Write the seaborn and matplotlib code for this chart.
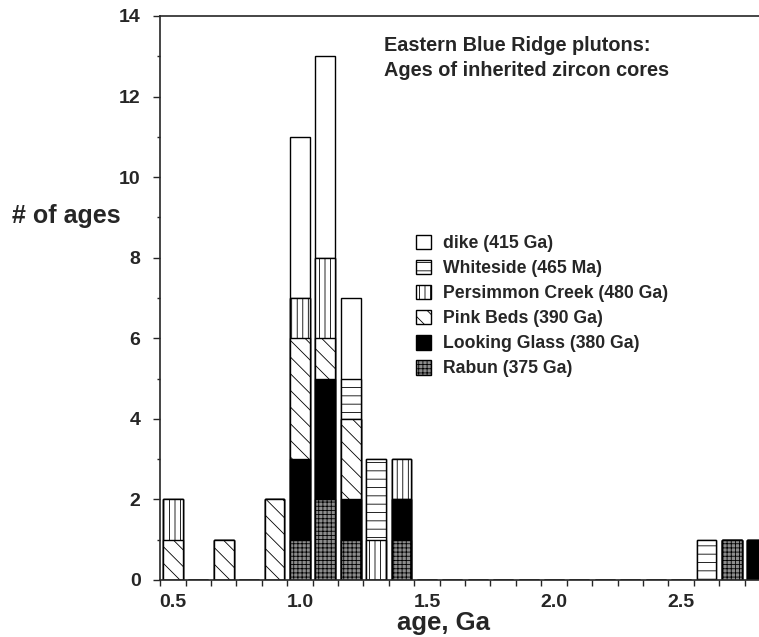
import numpy as np
import pandas as pd
import matplotlib
matplotlib.use("Agg")
import matplotlib.pyplot as plt
from matplotlib.patches import Patch
from matplotlib.ticker import MultipleLocator, FixedLocator
import seaborn as sns

# ---- data ----
ages = [0.5, 0.7, 0.9, 1.0, 1.1, 1.2, 1.3, 1.4, 2.6, 2.7, 2.8]
rabun = [0, 0, 0, 1, 2, 1, 0, 1, 0, 1, 0]
looking_glass = [0, 0, 0, 2, 3, 1, 0, 1, 0, 0, 1]
pink_beds = [1, 1, 2, 3, 1, 2, 0, 0, 0, 0, 0]
persimmon = [1, 0, 0, 1, 2, 0, 1, 1, 0, 0, 0]
whiteside = [0, 0, 0, 0, 0, 1, 2, 0, 1, 0, 0]
dike = [0, 0, 0, 4, 5, 2, 0, 0, 0, 0, 0]

series_names = ["Rabun (375 Ga)", "Looking Glass (380 Ga)", "Pink Beds (390 Ga)",
                "Persimmon Creek (480 Ga)", "Whiteside (465 Ma)", "dike (415 Ga)"]
series_vals = [rabun, looking_glass, pink_beds, persimmon, whiteside, dike]
styles = {
    "Rabun (375 Ga)": dict(facecolor="#8c8c8c", hatch="++++"),
    "Looking Glass (380 Ga)": dict(facecolor="black", hatch=None),
    "Pink Beds (390 Ga)": dict(facecolor="white", hatch="\\\\"),
    "Persimmon Creek (480 Ga)": dict(facecolor="white", hatch="|||"),
    "Whiteside (465 Ma)": dict(facecolor="white", hatch="--"),
    "dike (415 Ga)": dict(facecolor="white", hatch=None),
}

sns.set_style("ticks")
plt.rcParams["font.family"] = ["Liberation Sans", "DejaVu Sans"]
plt.rcParams["font.weight"] = "bold"
plt.rcParams["hatch.linewidth"] = 0.6

fig = plt.figure(figsize=(7.59, 6.37), dpi=100)
ax = fig.add_axes([160 / 759, 1 - 580 / 637, 1 - 160 / 759, (580 - 16) / 637])

edges = [round(0.45 + 0.1 * k, 2) for k in range(25)]
cum = np.cumsum(np.array(series_vals), axis=0)

# draw cumulative layers from the top down so lower layers cover upper ones
for i in range(len(series_names) - 1, -1, -1):
    name = series_names[i]
    st = styles[name]
    df = pd.DataFrame({"age": ages, "count": cum[i]})
    sns.histplot(data=df, x="age", weights="count", bins=edges, shrink=0.78,
                 color=st["facecolor"], hatch=st["hatch"], edgecolor="black",
                 linewidth=1.0, alpha=1, ax=ax)

ax.set_xlim(0.449, 2.807)
ax.set_ylim(0, 14)
ax.xaxis.set_major_locator(FixedLocator([0.5, 1.0, 1.5, 2.0, 2.5]))
ax.xaxis.set_minor_locator(FixedLocator(edges))
ax.set_xticklabels(["0.5", "1.0", "1.5", "2.0", "2.5"])
ax.yaxis.set_major_locator(MultipleLocator(2))
ax.yaxis.set_minor_locator(MultipleLocator(1))
ax.tick_params(axis="x", which="major", length=0, pad=10, labelsize=14)
ax.tick_params(axis="x", which="minor", length=4, width=1, direction="out")
ax.tick_params(axis="y", which="major", length=5, width=1, pad=9, labelsize=14)
ax.tick_params(axis="y", which="minor", length=2.5, width=1)
for lab in ax.get_xticklabels() + ax.get_yticklabels():
    lab.set_fontweight("bold")

for s in ["left", "bottom", "top"]:
    ax.spines[s].set_visible(True)
    ax.spines[s].set_linewidth(1.2)
ax.spines["right"].set_visible(False)

ax.set_xlabel("")
ax.set_ylabel("")
fig.text(444 / 759, 1 - 630 / 637, "age, Ga", fontsize=18.5, fontweight="bold",
         ha="center", va="baseline")
fig.text(12 / 759, 1 - 216 / 637, "# of ages", fontsize=18, fontweight="bold",
         ha="left", va="center")

fig.text(384 / 759, 1 - 36 / 637, "Eastern Blue Ridge plutons:\nAges of inherited zircon cores",
         fontsize=14.3, fontweight="bold", ha="left", va="top", linespacing=1.4)

handles = [Patch(facecolor=styles[n]["facecolor"], hatch=styles[n]["hatch"],
                 edgecolor="black", linewidth=1.0, label=n)
           for n in reversed(series_names)]
fig.legend(handles=handles, loc="upper left", bbox_to_anchor=(400 / 759, 1 - 219 / 637),
           frameon=False, prop={"weight": "bold", "size": 12.7},
           handlelength=0.88, handleheight=0.88, handletextpad=0.65, labelspacing=0.44)

fig.savefig("out.png", dpi=100)
